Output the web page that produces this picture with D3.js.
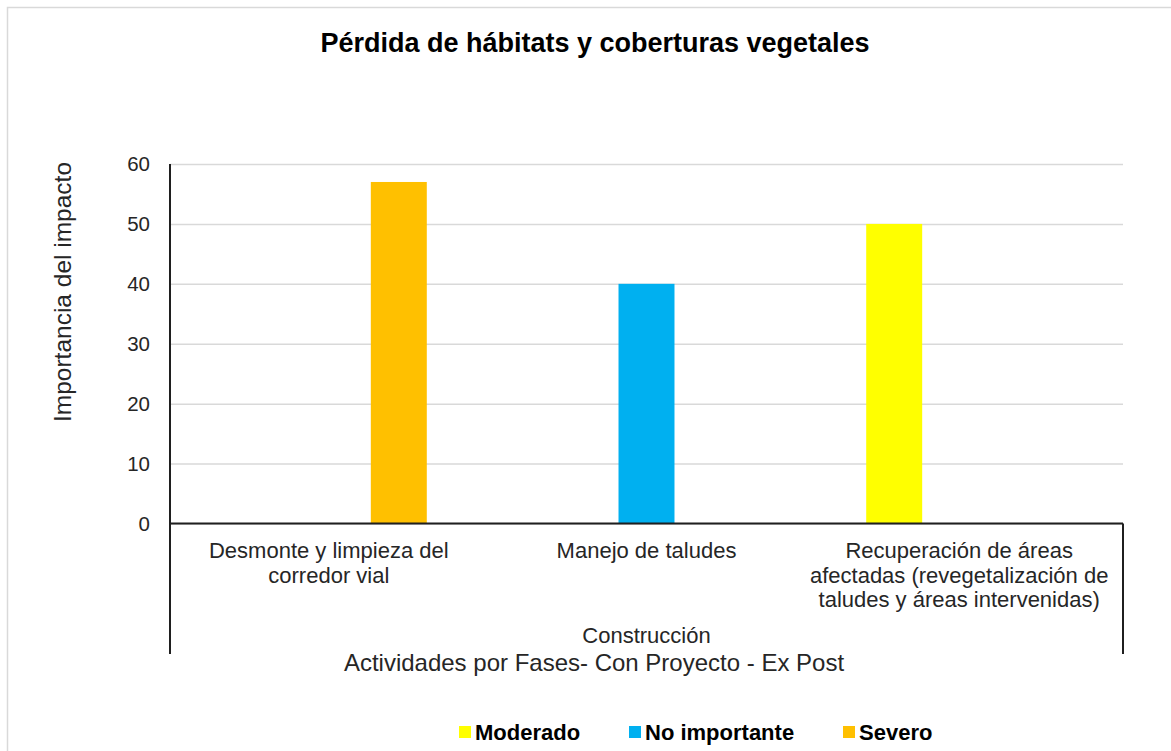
<!DOCTYPE html>
<html>
<head>
<meta charset="utf-8">
<script src="https://cdn.jsdelivr.net/npm/d3@7"></script>
<style>
  html, body { margin: 0; padding: 0; background: #fff; }
  svg { display: block; font-family: "Liberation Sans", Arial, sans-serif; }
</style>
</head>
<body>
<svg id="chart" width="1171" height="751"></svg>
<script>
// Activities (inner category level) and phase (outer level)
const categories = [
  ["Desmonte y limpieza del", "corredor vial"],
  ["Manejo de taludes"],
  ["Recuperación de áreas", "afectadas (revegetalización de", "taludes y áreas intervenidas)"]
];
const phase = "Construcción";
const series = ["Moderado", "No importante", "Severo"];
const colors = ["#ffff00", "#00b0f0", "#ffc000"];
// Impact importance per activity, one array per series (0 = no bar)
const moderado     = [0, 0, 50];
const noImportante = [0, 40, 0];
const severo       = [57, 0, 0];
const yTicks = [0, 10, 20, 30, 40, 50, 60];

const title = "Pérdida de hábitats y coberturas vegetales";
const yTitle = "Importancia del impacto";
const xTitle = "Actividades por Fases- Con Proyecto - Ex Post";

const values = [moderado, noImportante, severo];
const svg = d3.select("#chart");

// chart frame
svg.append("rect")
  .attr("x", 7.5).attr("y", 7.5).attr("width", 1180).attr("height", 760)
  .attr("fill", "#fff").attr("stroke", "#d9d9d9").attr("stroke-width", 1.5);

const plot = { left: 170, right: 1123, top: 164, bottom: 523.5 };

const x0 = d3.scaleBand()
  .domain(d3.range(categories.length))
  .range([plot.left, plot.right])
  .padding(0);

const x1 = d3.scaleBand()
  .domain(series)
  .range([0, x0.bandwidth()])
  .paddingInner(0.2)
  .paddingOuter(0.87);

const y = d3.scaleLinear().domain([0, 60]).range([plot.bottom, plot.top]);

// gridlines
svg.append("g")
  .attr("transform", `translate(${plot.left},0)`)
  .call(d3.axisLeft(y).tickValues(yTicks).tickSize(-(plot.right - plot.left)).tickFormat(""))
  .call(g => g.select(".domain").remove())
  .call(g => g.selectAll(".tick line").attr("stroke", "#d9d9d9").attr("stroke-width", 1.5));

// bars
const rows = [];
categories.forEach((c, i) => series.forEach((s, j) => {
  if (values[j][i] > 0) rows.push({ i, s, j, v: values[j][i] });
}));
svg.append("g").selectAll("rect").data(rows).join("rect")
  .attr("x", d => x0(d.i) + x1(d.s))
  .attr("width", x1.bandwidth())
  .attr("y", d => y(d.v))
  .attr("height", d => y(0) - y(d.v))
  .attr("fill", d => colors[d.j]);

// y axis labels
const yAxis = svg.append("g")
  .attr("transform", `translate(${plot.left},0)`)
  .call(d3.axisLeft(y).tickValues(yTicks).tickSize(0).tickPadding(20))
  .call(g => g.select(".domain").remove());
yAxis.selectAll("text")
  .attr("font-family", "Liberation Sans, Arial, sans-serif")
  .attr("font-size", 20.5).attr("fill", "#262626");

// axis lines
const axisColor = "#1f1f1f";
svg.append("line")
  .attr("x1", plot.left).attr("x2", plot.left)
  .attr("y1", plot.top).attr("y2", 654)
  .attr("stroke", axisColor).attr("stroke-width", 2);
svg.append("line")
  .attr("x1", plot.left).attr("x2", plot.right)
  .attr("y1", plot.bottom).attr("y2", plot.bottom)
  .attr("stroke", axisColor).attr("stroke-width", 2);
svg.append("line")
  .attr("x1", plot.right).attr("x2", plot.right)
  .attr("y1", plot.bottom).attr("y2", 654)
  .attr("stroke", axisColor).attr("stroke-width", 2);

// category labels
const catG = svg.append("g").attr("font-size", 22).attr("fill", "#262626").attr("text-anchor", "middle");
categories.forEach((lines, i) => {
  const cx = x0(i) + x0.bandwidth() / 2 - (i === 2 ? 5 : 0);
  const t = catG.append("text").attr("x", cx).attr("y", 558);
  lines.forEach((ln, k) => t.append("tspan")
    .attr("x", cx)
    .attr("dy", k === 0 ? 0 : 24.5)
    .text(ln));
});

// phase label
svg.append("text")
  .attr("x", (plot.left + plot.right) / 2).attr("y", 643)
  .attr("text-anchor", "middle").attr("font-size", 22).attr("fill", "#262626")
  .text(phase);

// axis titles
svg.append("text")
  .attr("x", 594).attr("y", 671)
  .attr("text-anchor", "middle").attr("font-size", 24).attr("fill", "#262626")
  .text(xTitle);
svg.append("text")
  .attr("transform", "translate(71,292) rotate(-90)")
  .attr("text-anchor", "middle").attr("font-size", 24.5).attr("fill", "#262626")
  .text(yTitle);

// title
svg.append("text")
  .attr("x", 595).attr("y", 52)
  .attr("text-anchor", "middle").attr("font-size", 27).attr("font-weight", "bold")
  .attr("fill", "#000")
  .text(title);

// legend
const legendX = [459, 629, 843];
const leg = svg.append("g").selectAll("g").data(series).join("g")
  .attr("transform", (d, i) => `translate(${legendX[i]},726)`);
leg.append("rect").attr("width", 12).attr("height", 12).attr("fill", (d, i) => colors[i]);
leg.append("text").attr("x", 16).attr("y", 14)
  .attr("font-size", 22).attr("font-weight", "bold").attr("fill", "#000")
  .text(d => d);
</script>
</body>
</html>
